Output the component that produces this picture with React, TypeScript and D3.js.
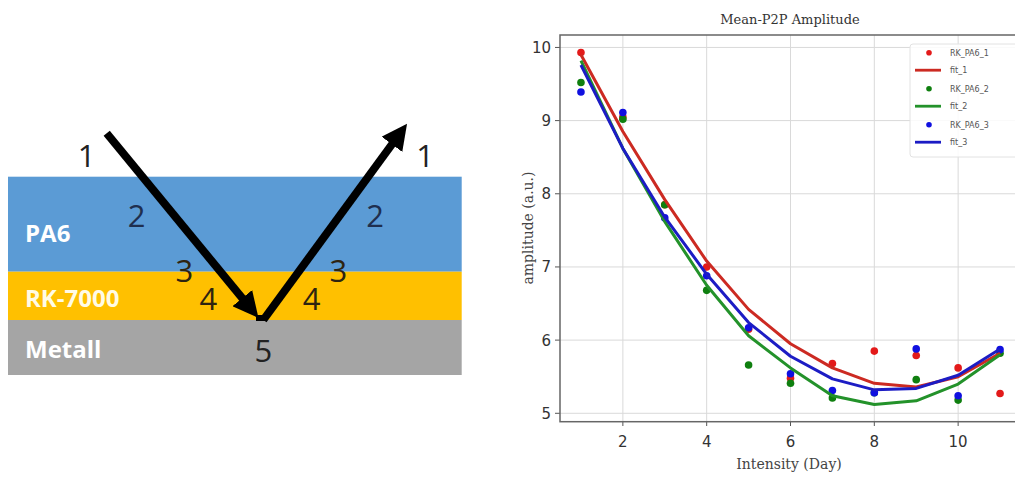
import React from 'react';
import { scaleLinear, line } from 'd3';

// days on the x axis
const days = [1, 2, 3, 4, 5, 6, 7, 8, 9, 10, 11];

// measured mean peak-to-peak amplitude per sample
const rk1 = [9.93, 9.05, 7.85, 7.0, 6.15, 5.48, 5.68, 5.85, 5.79, 5.62, 5.27];
const rk2 = [9.52, 9.02, 7.85, 6.68, 5.66, 5.41, 5.21, 5.28, 5.46, 5.18, 5.82];
const rk3 = [9.39, 9.11, 7.67, 6.88, 6.17, 5.54, 5.31, 5.28, 5.88, 5.24, 5.87];

// fitted curves, evaluated at the same days
const fit1 = [9.9, 8.85, 7.92, 7.08, 6.42, 5.95, 5.62, 5.41, 5.36, 5.5, 5.82];
const fit2 = [9.82, 8.62, 7.62, 6.75, 6.06, 5.62, 5.24, 5.12, 5.17, 5.4, 5.8];
const fit3 = [9.76, 8.62, 7.68, 6.9, 6.24, 5.78, 5.47, 5.32, 5.34, 5.52, 5.88];

const xTicks = [2, 4, 6, 8, 10];
const yTicks = [5, 6, 7, 8, 9, 10];

const seriesNames = ['RK_PA6_1', 'RK_PA6_2', 'RK_PA6_3'];
const fitNames = ['fit_1', 'fit_2', 'fit_3'];
const seriesColors = ['#e31a1a', '#0f7f0f', '#1010e0'];
const lineColors = ['#cc2a22', '#23922a', '#1c1cc4'];

// layer stack of the sketch on the left
const layerNames = ['PA6', 'RK-7000', 'Metall'];
const layerColors = ['#5b9bd5', '#ffc000', '#a5a5a5'];

export default function App() {
  const W = 1015, H = 477;
  const x = scaleLinear().domain([0.5, 11.5]).range([560, 1021]);
  const y = scaleLinear().domain([4.885, 10.17]).range([421.7, 35]);

  const mk = line<number>().x((_, i) => x(days[i])).y(d => y(d));
  const points = [rk1, rk2, rk3];
  const fits = [fit1, fit2, fit3];

  // layer band edges (sketch)
  const bandY = [176.7, 271.7, 320, 375];

  return (
    <svg width={W} height={H} style={{ position: 'absolute', left: 0, top: 0, background: '#fff' }}>
      <defs>
        <marker id="head" viewBox="0 0 10 10" refX="6" refY="5" markerWidth="3.2" markerHeight="3.2" orient="auto">
          <path d="M0,0 L10,5 L0,10 z" fill="#000" />
        </marker>
        <clipPath id="plotclip">
          <rect x={560} y={35} width={461} height={387} />
        </clipPath>
      </defs>

      {/* ---- left sketch ---- */}
      {layerNames.map((n, i) => (
        <g key={n}>
          <rect x={8} y={bandY[i]} width={453.7} height={bandY[i + 1] - bandY[i]} fill={layerColors[i]} />
          <text x={25} y={[242, 306.5, 358][i]} fill={i === 1 ? '#fffbe6' : '#fff'}
            fontFamily="Open Sans, Liberation Sans, sans-serif" fontWeight="bold" fontSize={24}>{n}</text>
        </g>
      ))}
      <line x1={106.7} y1={133.3} x2={252} y2={310} stroke="#000" strokeWidth={8} markerEnd="url(#head)" />
      <line x1={263.3} y1={320} x2={401} y2={132} stroke="#000" strokeWidth={8} markerEnd="url(#head)" />
      <line x1={256} y1={318} x2={267} y2={318} stroke="#000" strokeWidth={6} />
      {[
        ['1', 86.7, 167, '#222'], ['1', 425, 167, '#222'],
        ['2', 136.7, 227, '#1f2f4f'], ['2', 375, 227, '#1f2f4f'],
        ['3', 184.3, 282, '#2e2410'], ['3', 338.3, 282, '#2e2410'],
        ['4', 208.3, 310, '#2e2410'], ['4', 311.7, 310, '#2e2410'],
        ['5', 263.3, 362, '#222'],
      ].map(([t, cx, cy, c], i) => (
        <text key={i} x={cx as number} y={cy as number} textAnchor="middle" fill={c as string}
          fontFamily="Open Sans, Liberation Sans, sans-serif" fontSize={31}>{t}</text>
      ))}

      {/* ---- chart ---- */}
      <text x={790} y={24} textAnchor="middle" fontFamily="DejaVu Serif" fontSize={13} fill="#333">Mean-P2P Amplitude</text>

      {xTicks.map(t => (
        <g key={'x' + t}>
          <line x1={x(t)} x2={x(t)} y1={35} y2={421.7} stroke="#d9d9d9" strokeWidth={1} />
          <line x1={x(t)} x2={x(t)} y1={421.7} y2={426} stroke="#555" />
          <text x={x(t)} y={447} textAnchor="middle" fontFamily="DejaVu Sans" fontSize={15} fill="#333">{t}</text>
        </g>
      ))}
      {yTicks.map(t => (
        <g key={'y' + t}>
          <line x1={560} x2={1021} y1={y(t)} y2={y(t)} stroke="#d9d9d9" strokeWidth={1} />
          <line x1={555} x2={560} y1={y(t)} y2={y(t)} stroke="#555" />
          <text x={551} y={y(t) + 5.5} textAnchor="end" fontFamily="DejaVu Sans" fontSize={15} fill="#333">{t}</text>
        </g>
      ))}
      <rect x={560} y={35} width={461} height={386.7} fill="none" stroke="#666" strokeWidth={1.5} />

      <text x={789} y={469} textAnchor="middle" fontFamily="DejaVu Serif" fontSize={14} fill="#444">Intensity (Day)</text>
      <text transform="translate(533,228) rotate(-90)" textAnchor="middle" fontFamily="DejaVu Serif" fontSize={14} fill="#444">amplitude (a.u.)</text>

      <g clipPath="url(#plotclip)">
        {points.map((vals, s) => (
          <g key={'p' + s}>
            {vals.map((v, i) => (
              <circle key={i} cx={x(days[i])} cy={y(v)} r={3.8} fill={seriesColors[s]} />
            ))}
          </g>
        ))}
        {fits.map((vals, s) => (
          <path key={'f' + s} d={mk(vals) || ''} fill="none" stroke={lineColors[s]} strokeWidth={3} strokeLinejoin="round" />
        ))}
      </g>

      {/* legend */}
      <rect x={910} y={44} width={115} height={113} rx={3} fill="#fff" fillOpacity={0.85} stroke="#e2e2e2" />
      {seriesNames.map((n, s) => {
        const yp = 52.7 + s * 36;
        const yl = yp + 17.5;
        return (
          <g key={n}>
            <circle cx={929} cy={yp} r={2.8} fill={seriesColors[s]} />
            <text x={950} y={yp + 3} fontFamily="DejaVu Sans" fontSize={8} fill="#555">{n}</text>
            <line x1={915} x2={941} y1={yl} y2={yl} stroke={lineColors[s]} strokeWidth={2.8} />
            <text x={950} y={yl + 3} fontFamily="DejaVu Sans" fontSize={8} fill="#555">{fitNames[s]}</text>
          </g>
        );
      })}
    </svg>
  );
}
